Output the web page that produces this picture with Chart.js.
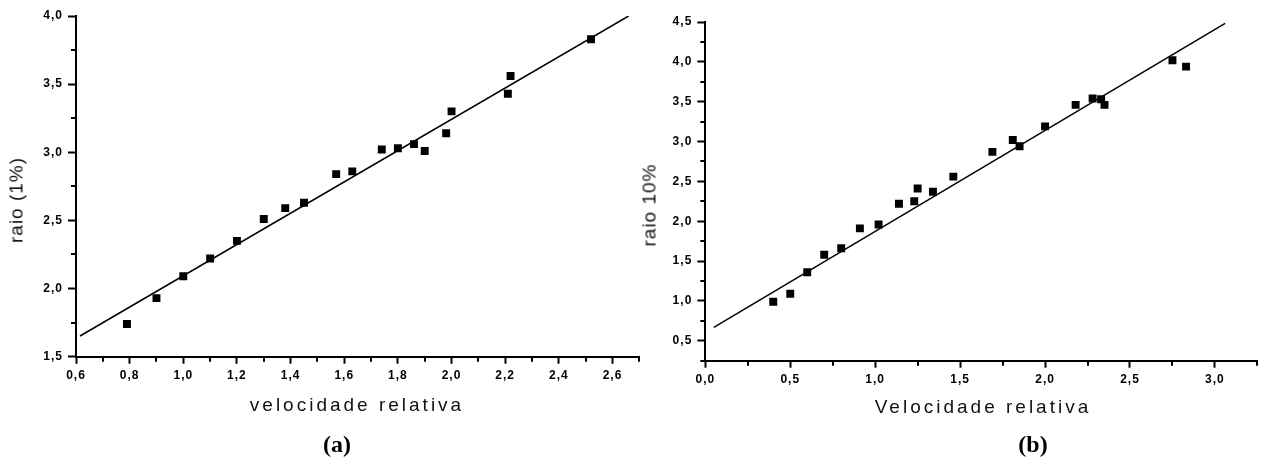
<!DOCTYPE html>
<html>
<head>
<meta charset="utf-8">
<script src="https://cdn.jsdelivr.net/npm/chart.js@4/dist/chart.umd.min.js"></script>
<style>
  html, body { margin: 0; padding: 0; background: #fff; overflow: hidden; }
  #wrap { position: relative; width: 1263px; height: 461px; }
  canvas { position: absolute; top: 0; }
  .lbl {
    position: absolute;
    font-family: "Liberation Sans", Arial, sans-serif;
    color: #111;
    white-space: nowrap;
    line-height: 1;
    transform: translate(-50%, -50%);
  }
  .ytitle { font-size: 19px; letter-spacing: 1px; transform: translate(-50%, -50%) rotate(-90deg); }
  .xtitle { font-size: 19px; letter-spacing: 3px; }
  .cap { font-family: "Liberation Serif", "Times New Roman", serif; font-weight: bold; font-size: 24px; color: #000; }
</style>
</head>
<body>
<div id="wrap">
  <canvas id="chartA" width="660" height="461" style="left:0"></canvas>
  <canvas id="chartB" width="623" height="461" style="left:640px"></canvas>
  <div class="lbl ytitle" style="left:16px; top:200px">raio (1%)</div>
  <div class="lbl xtitle" style="left:357px; top:404px">velocidade relativa</div>
  <div class="lbl cap" style="left:337px; top:444px">(a)</div>
  <div class="lbl ytitle" style="left:649px; top:205px">raio 10%</div>
  <div class="lbl xtitle" style="left:983px; top:406px">Velocidade relativa</div>
  <div class="lbl cap" style="left:1033px; top:444px">(b)</div>
</div>

<script>
// (a) raio 1% vs velocidade relativa
const velA = [0.79, 0.90, 1.00, 1.10, 1.20, 1.30, 1.38, 1.45, 1.57, 1.63, 1.74, 1.80, 1.86, 1.90, 1.98, 2.00, 2.21, 2.22, 2.52];
const raioA = [1.74, 1.93, 2.09, 2.22, 2.35, 2.51, 2.59, 2.63, 2.84, 2.86, 3.02, 3.03, 3.06, 3.01, 3.14, 3.30, 3.43, 3.56, 3.83];
const fitVelA = [0.615, 2.66];
const fitRaioA = [1.652, 4.0];
const xTicksA = [0.6, 0.8, 1.0, 1.2, 1.4, 1.6, 1.8, 2.0, 2.2, 2.4, 2.6];
const yTicksA = [1.5, 2.0, 2.5, 3.0, 3.5, 4.0];

// (b) raio 10% vs Velocidade relativa
const velB = [0.40, 0.50, 0.60, 0.70, 0.80, 0.91, 1.02, 1.14, 1.23, 1.25, 1.34, 1.46, 1.69, 1.81, 1.85, 2.00, 2.18, 2.28, 2.33, 2.35, 2.75, 2.83];
const raioB = [0.99, 1.09, 1.36, 1.58, 1.66, 1.91, 1.96, 2.22, 2.25, 2.41, 2.37, 2.56, 2.87, 3.02, 2.94, 3.19, 3.46, 3.54, 3.53, 3.46, 4.02, 3.94];
const fitVelB = [0.05, 3.06];
const fitRaioB = [0.667, 4.484];
const xTicksB = [0.0, 0.5, 1.0, 1.5, 2.0, 2.5, 3.0];
const yTicksB = [0.5, 1.0, 1.5, 2.0, 2.5, 3.0, 3.5, 4.0, 4.5];

const pairs = (xs, ys) => xs.map((x, i) => ({ x: x, y: ys[i] }));
const comma = v => v.toFixed(1).replace('.', ',');

// short unlabeled ticks halfway between the labeled ones
const minorTicks = {
    id: 'minorTicks',
    beforeDraw(chart) {
        chart.ctx.letterSpacing = '1px';
    },
    afterDraw(chart) {
        const ctx = chart.ctx;
        ctx.save();
        ctx.strokeStyle = '#000';
        ctx.lineWidth = 2;
        Object.values(chart.scales).forEach(scale => {
            const major = scale.ticks.map(t => t.value);
            const half = (major[1] - major[0]) / 2;
            ctx.beginPath();
            for (let v = major[0] - half; v <= scale.max + 1e-9; v += half) {
                if (v < scale.min - 1e-9) continue;
                if (major.some(m => Math.abs(m - v) < 1e-6)) continue;
                const p = Math.round(scale.getPixelForValue(v));
                if (scale.isHorizontal()) {
                    ctx.moveTo(p, scale.top);
                    ctx.lineTo(p, scale.top + 5);
                } else {
                    ctx.moveTo(scale.right - 5, p);
                    ctx.lineTo(scale.right, p);
                }
            }
            ctx.stroke();
        });
        ctx.restore();
    }
};

function axis(min, max, tickValues, size, tickLen, pad) {
    return {
        type: 'linear',
        min: min,
        max: max,
        afterBuildTicks: scale => { scale.ticks = tickValues.map(v => ({ value: v })); },
        afterFit: scale => {
            if (scale.isHorizontal()) scale.height = size; else scale.width = size;
        },
        border: { display: true, color: '#000', width: 2 },
        grid: {
            display: true,
            drawOnChartArea: false,
            drawTicks: true,
            tickLength: tickLen,
            tickWidth: 2,
            tickColor: '#000'
        },
        ticks: {
            color: '#000',
            padding: pad,
            maxRotation: 0,
            autoSkip: false,
            font: { family: '"Liberation Sans", Arial, sans-serif', size: 12, weight: 'bold' },
            callback: v => comma(v)
        }
    };
}

function makeChart(id, xs, ys, fx, fy, xAxis, yAxis, padding) {
    return new Chart(document.getElementById(id), {
        type: 'scatter',
        data: {
            datasets: [
                {
                    label: 'medidas',
                    data: pairs(xs, ys),
                    pointStyle: 'rect',
                    pointRadius: 5.6,
                    pointHoverRadius: 5.6,
                    backgroundColor: '#000',
                    borderColor: '#000',
                    borderWidth: 0
                },
                {
                    label: 'ajuste linear',
                    data: pairs(fx, fy),
                    showLine: true,
                    pointRadius: 0,
                    borderColor: '#000',
                    borderWidth: 1.5,
                    fill: false
                }
            ]
        },
        options: {
            responsive: false,
            animation: false,
            devicePixelRatio: 1,
            layout: { padding: padding },
            plugins: {
                legend: { display: false },
                tooltip: { enabled: false }
            },
            scales: { x: xAxis, y: yAxis }
        },
        plugins: [minorTicks]
    });
}

makeChart('chartA', velA, raioA, fitVelA, fitRaioA,
    axis(0.6, 2.7, xTicksA, 104.3, 7, 5),
    axis(1.5, 4.0, yTicksA, 76, 8, 5),
    { top: 16, right: 20.7, bottom: 0, left: 0 });

makeChart('chartB', velB, raioB, fitVelB, fitRaioB,
    axis(0.0, 3.25, xTicksB, 100.3, 7, 5),
    axis(0.25, 4.5, yTicksB, 65.3, 8, 5),
    { top: 22, right: 3, bottom: 0, left: 0 });
</script>
</body>
</html>
